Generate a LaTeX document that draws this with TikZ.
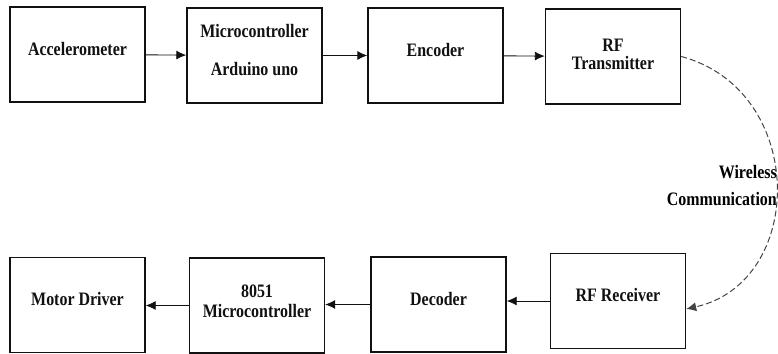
\documentclass[tikz,border=0pt]{standalone}
\usepackage{fontspec}
\usepackage{tikz}
\usetikzlibrary{arrows.meta}
\newfontfamily\boxfont{Liberation Serif}[FakeStretch=0.84]
\definecolor{ink}{HTML}{111111}
\definecolor{dashgray}{HTML}{444444}

\begin{document}
\begin{tikzpicture}[x=1pt, y=1pt,
  font=\boxfont\bfseries\fontsize{19}{20}\selectfont, >={Latex[length=10pt,width=9pt]},
  block/.style={draw=ink, line width=1.4pt, minimum width=135pt, minimum height=95pt, inner sep=0pt, align=center, text=ink, text depth=12pt},
  arr/.style={->, draw=ink, line width=0.9pt},
  link/.style={->, draw=dashgray, dash pattern=on 6pt off 3pt, line width=1pt}]
\useasboundingbox (0,0) rectangle (778,353);
% top row
\node[block] (acc) at (77.5,298.5) {Accelerometer};
\node[block] (mcu) at (254.5,297.5) {Microcontroller\\[18pt]Arduino uno};
\node[block] (enc) at (435.5,297.5) {Encoder};
\node[block, text depth=5pt] (tx) at (613,296.5) {RF\\[-2pt]Transmitter};
\draw[arr] (acc) -- (mcu);
\draw[arr] (mcu) -- (enc);
\draw[arr] (enc) -- (tx);
% bottom row
\node[block] (motor) at (77.5,48) {Motor Driver};
\node[block, text depth=9pt] (m8051) at (257,47.5) {8051\\Microcontroller};
\node[block] (dec) at (438.5,48.5) {Decoder};
\node[block] (rx) at (618,52) {RF Receiver};
\draw[arr] (rx.west) -- (rx.west -| dec.east);
\draw[arr] (dec.west) -- (dec.west -| m8051.east);
\draw[arr] (m8051.west) -- (m8051.west -| motor.east);
% wireless link
\node[anchor=east, align=right, inner sep=0pt] (wl) at (777,167.5) {Wireless\\[7pt]Communication};
\draw[link] (tx.east) .. controls (807,263) and (807,71) .. ([yshift=-8pt]rx.east);
\end{tikzpicture}
\end{document}
